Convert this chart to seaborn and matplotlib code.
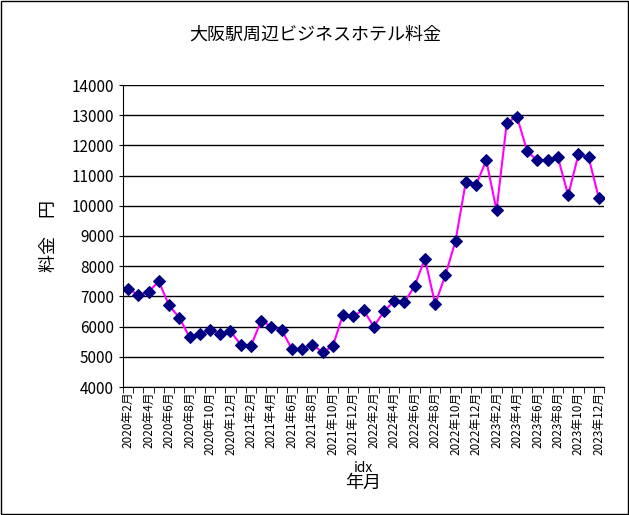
import numpy as np
import pandas as pd
import seaborn as sns
import matplotlib.pyplot as plt
from matplotlib.patches import Rectangle

plt.rcParams["font.family"] = "Noto Sans CJK JP"

months = [f"{y}年{m}月" for y in range(2020, 2024) for m in range(1, 13)][1:]
prices = [7250, 7050, 7150, 7500, 6700, 6300, 5650, 5750, 5900, 5750, 5850,
          5400, 5350, 6200, 6000, 5900, 5250, 5250, 5400, 5150, 5350, 6400, 6350,
          6550, 6000, 6500, 6850, 6800, 7350, 8250, 6750, 7700, 8850, 10800, 10700,
          11500, 9850, 12750, 12950, 11800, 11500, 11500, 11600, 10350, 11700, 11600, 10250]

df = pd.DataFrame({"idx": np.arange(len(prices)), "price": prices})

fig = plt.figure(figsize=(6.29, 5.15), dpi=100)
ax = fig.add_axes([123/629, 1-387/515, 481/629, 302/515])
sns.lineplot(data=df, x="idx", y="price", ax=ax, color="#FF00FF", lw=1.5,
             marker="D", markersize=6, markerfacecolor="#000080",
             markeredgecolor="#000080")
ax.set_xlim(-0.5, len(prices) - 0.5)
ax.set_ylim(4000, 14000)
ax.set_yticks(range(4000, 14001, 1000))
ax.tick_params(axis="y", labelsize=11, length=3)
ax.set_xticks(np.arange(0, len(prices), 2))
ax.set_xticklabels(months[::2], rotation=90, fontsize=8.5)
ax.set_xticks(np.arange(-0.5, len(prices), 1), minor=True)
ax.tick_params(axis="x", which="major", length=0)
ax.tick_params(axis="x", which="minor", length=4)
ax.grid(axis="y", color="black", lw=1)
ax.set_axisbelow(True)
for s in ["top", "right"]:
    ax.spines[s].set_visible(False)
ax.set_ylabel("料金　円", fontsize=13, labelpad=10)
fig.text(363/629, 1-483/515, "年月", fontsize=13, ha="center", va="center")
fig.text(315/629, 1-35/515, "大阪駅周辺ビジネスホテル料金", fontsize=13, ha="center", va="center")
fig.patches.append(Rectangle((0.002, 0.002), 0.996, 0.996, transform=fig.transFigure,
                             fill=False, edgecolor="black", lw=1))
fig.savefig("out.png", dpi=100)
